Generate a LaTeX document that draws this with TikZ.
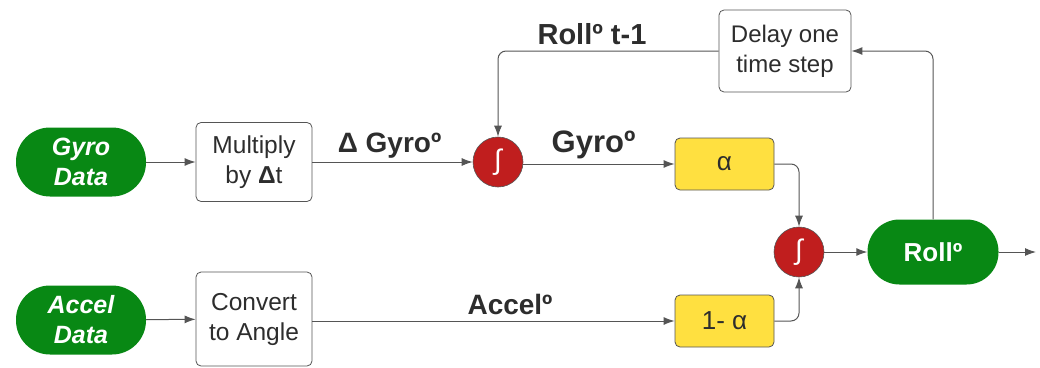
\documentclass[tikz,border=0pt]{standalone}
\usepackage{fontspec}
\setmainfont{Liberation Sans}
\usepackage{tikz}
\usetikzlibrary{arrows,arrows.meta}

\definecolor{datagreen}{RGB}{8,136,20}
\definecolor{sumred}{RGB}{192,30,30}
\definecolor{gainyellow}{RGB}{255,224,64}
\definecolor{linegray}{RGB}{85,85,85}
\definecolor{textgray}{RGB}{45,45,45}

\begin{document}
\begin{tikzpicture}[x=1pt,y=-1pt,>={Latex[length=11pt,width=8pt]},auto,
			line/.style={draw=linegray,line width=1pt,rounded corners=8pt},
			data node/.style={rectangle,rounded corners=34pt,fill=datagreen,text=white,
				font=\fontsize{25}{30}\selectfont\bfseries\itshape,align=center,
				minimum width=130pt,minimum height=69pt,inner sep=0pt},
			block node/.style={rectangle,rounded corners=5pt,draw=linegray,fill=white,
				line width=0.8pt,text=textgray,font=\fontsize{24.5}{30}\selectfont,align=center,
				minimum width=116pt,inner sep=0pt},
			gain node/.style={rectangle,rounded corners=5pt,draw=linegray,fill=gainyellow,
				line width=0.8pt,text=textgray,font=\fontsize{26}{28}\selectfont,
				minimum width=99pt,minimum height=52pt,inner sep=0pt},
			sum node/.style={circle,draw=linegray,fill=sumred,text=white,line width=0.6pt,
				font=\fontsize{28}{30}\selectfont,minimum size=50pt,inner sep=0pt},
			edge label/.style={text=textgray,font=\bfseries,anchor=base}]

			\useasboundingbox (0,0) rectangle (1040,367);

			\node[data node] (gyro) at (81,162) {Gyro\\Data};
			\node[data node] (accel) at (81,320) {Accel\\Data};
			\node[block node,minimum height=79pt] (mult) at (254,162) {Multiply\\by \textbf{Δ}t};
			\node[block node,minimum height=94pt] (conv) at (254,319) {Convert\\to Angle};
			\node[sum node] (sumA) at (498,162) {∫};
			\node[gain node] (alpha) at (724.5,164) {α};
			\node[gain node] (onealpha) at (724.5,321) {1- α};
			\node[sum node] (sumB) at (799,252) {∫};
			\node[data node,rounded corners=32pt,minimum width=131pt,minimum height=65pt,
				font=\fontsize{26}{28}\selectfont\bfseries] (roll) at (933,252) {Rollº};
			\node[block node,minimum width=132pt,minimum height=82pt,
				font=\fontsize{24}{30}\selectfont] (delay) at (785,51) {Delay one\\time step};
			\coordinate (out) at (1036,252);

			\path[line,->] (gyro) -- (mult);
			\path[line,->] (accel) -- (conv);
			\path[line,->] (mult.east |- sumA) -- (sumA);
			\path[line,->] (sumA.east |- alpha) -- (alpha);
			\path[line,->] (conv.east |- onealpha) -- (onealpha);
			\path[line,->] (alpha.east) -| (sumB.north);
			\path[line,->] (onealpha.east) -| (sumB.south);
			\path[line,->] (sumB) -- (roll);
			\path[line,->] (roll) -- (out);
			\path[line,->] (roll.north) |- (delay.east);
			\path[line,->] (delay.west) -| (sumA.north);

			\node[edge label,font=\fontsize{28}{30}\selectfont\bfseries] (dgyrolab) at (389.5,152) {Δ Gyroº};
			\node[edge label,font=\fontsize{31}{33}\selectfont\bfseries] (gyrolab) at (593.5,152) {Gyroº};
			\node[edge label,font=\fontsize{29}{31}\selectfont\bfseries] (rolllab) at (592,44) {Rollº t-1};
			\node[edge label,font=\fontsize{28}{30}\selectfont\bfseries] (accellab) at (510,314) {Accelº};
		\end{tikzpicture}
\end{document}
